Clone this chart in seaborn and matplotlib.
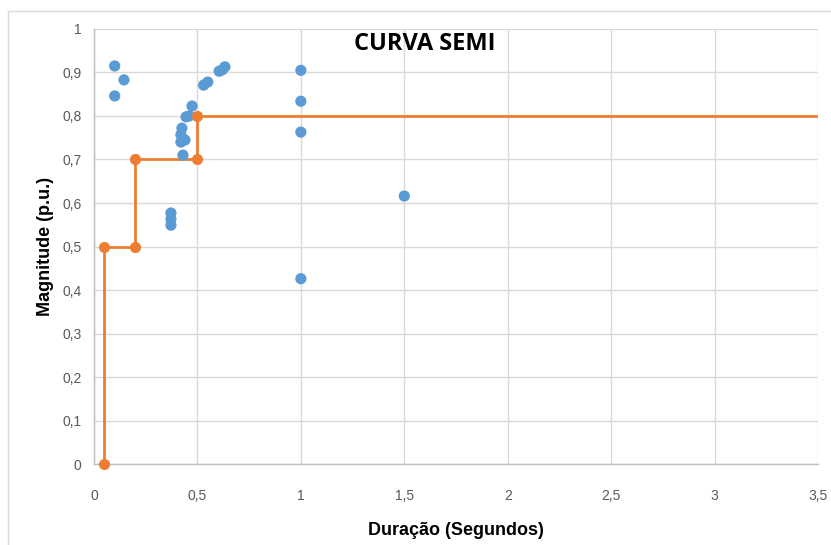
import matplotlib
matplotlib.use("Agg")
import matplotlib.pyplot as plt
import numpy as np
import pandas as pd
import seaborn as sns
from matplotlib.patches import Rectangle
from matplotlib.ticker import FuncFormatter, MultipleLocator

# measured events (duration s, magnitude p.u.)
duracao = [0.10, 0.145, 0.10, 0.372, 0.372, 0.372, 0.43, 0.425, 0.42, 0.42, 0.44,
           0.445, 0.46, 0.474, 0.53, 0.55, 0.605, 0.62, 0.633,
           1.0, 1.0, 1.0, 1.0, 1.5]
magnitude = [0.915, 0.883, 0.846, 0.577, 0.563, 0.549, 0.710, 0.772, 0.757, 0.740, 0.745,
             0.798, 0.800, 0.823, 0.871, 0.878, 0.903, 0.906, 0.913,
             0.905, 0.834, 0.763, 0.426, 0.616]

# SEMI curve limits
curva_x = [0.05, 0.05, 0.2, 0.2, 0.5, 0.5]
curva_y = [0.0, 0.5, 0.5, 0.7, 0.7, 0.8]
curva_fim_x = 10.0

BLUE = "#5B9BD5"
ORANGE = "#ED7D31"

sns.set_theme(style="whitegrid")
plt.rcParams["font.family"] = ["Liberation Sans", "DejaVu Sans"]

fig = plt.figure(figsize=(8.31, 5.45), dpi=100)
ax = fig.add_axes([0.1131, 0.1486, 0.8713, 0.7982])

pontos = pd.DataFrame({"dur": duracao, "mag": magnitude})
sns.scatterplot(data=pontos, x="dur", y="mag", color=BLUE, s=65, edgecolor="none", ax=ax, zorder=3)

linha = pd.DataFrame({"x": curva_x + [curva_fim_x], "y": curva_y + [curva_y[-1]]})
sns.lineplot(data=linha, x="x", y="y", sort=False, estimator=None, color=ORANGE, lw=2, ax=ax, zorder=2)
ax.plot(curva_x, curva_y, "o", color=ORANGE, ms=7, zorder=4, clip_on=False)

ax.set_xlim(0, 3.5)
ax.set_ylim(0, 1)
ax.xaxis.set_major_locator(MultipleLocator(0.5))
ax.yaxis.set_major_locator(MultipleLocator(0.1))
fmt = FuncFormatter(lambda v, p: ("%g" % round(v, 2)).replace(".", ","))
ax.xaxis.set_major_formatter(fmt)
ax.yaxis.set_major_formatter(fmt)
ax.tick_params(axis="both", labelsize=10, colors="#595959", length=0)
ax.tick_params(axis="x", pad=18)
ax.tick_params(axis="y", pad=9)
ax.grid(True, color="#D9D9D9", lw=1)
for side in ["top", "right"]:
    ax.spines[side].set_visible(False)
for side in ["left", "bottom"]:
    ax.spines[side].set_color("#BFBFBF")
    ax.spines[side].set_linewidth(1)

ax.set_xlabel("Duração (Segundos)", fontsize=13, fontweight="bold", color="black", labelpad=14)
ax.set_ylabel("Magnitude (p.u.)", fontsize=13, fontweight="bold", color="black", labelpad=6)
ax.text(1.6, 0.965, "CURVA SEMI", fontsize=17, fontweight="bold", ha="center", va="center",
        color="black", family=["Open Sans", "DejaVu Sans"])

# chart area border (only left and top edges fall inside the picture)
fig.patches.append(Rectangle((8 / 831, -0.05), 1.0, 1.05 - 11 / 545, transform=fig.transFigure,
                             fill=False, edgecolor="#D9D9D9", lw=1))

fig.savefig("out.png", dpi=100)
